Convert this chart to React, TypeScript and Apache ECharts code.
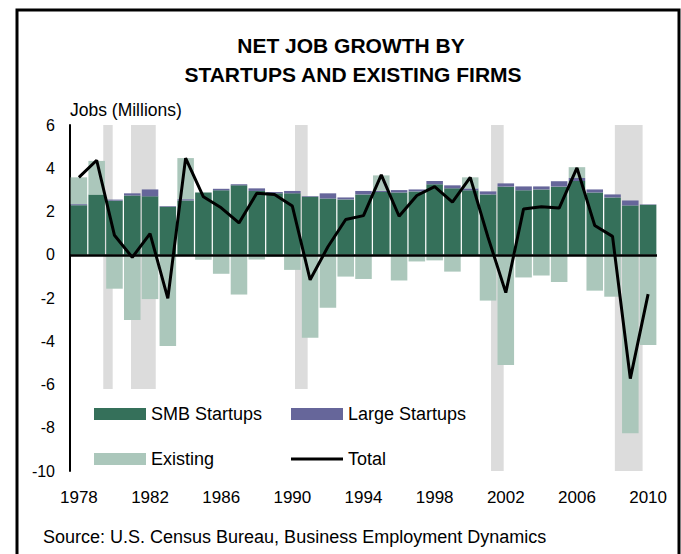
import React, { useEffect, useRef } from "react";
import * as echarts from "echarts";

const years = [
  "1978","1979","1980","1981","1982","1983","1984","1985","1986","1987",
  "1988","1989","1990","1991","1992","1993","1994","1995","1996","1997",
  "1998","1999","2000","2001","2002","2003","2004","2005","2006","2007",
  "2008","2009","2010",
];
const smbStartups = [
  2.29, 2.79, 2.5, 2.74, 2.7, 2.22, 2.51, 2.88, 2.98, 3.21,
  2.95, 2.84, 2.84, 2.68, 2.6, 2.56, 2.79, 2.9, 2.88, 2.93,
  3.26, 3.07, 2.98, 2.79, 3.15, 2.98, 3.02, 3.15, 3.41, 2.88,
  2.65, 2.28, 2.31,
];
const largeStartups = [
  0.05, 0, 0.05, 0.1, 0.32, 0.03, 0.06, 0, 0.07, 0.05,
  0.12, 0.06, 0.11, 0.03, 0.24, 0.09, 0.16, 0.06, 0.11, 0.09,
  0.15, 0.14, 0.09, 0.14, 0.15, 0.18, 0.14, 0.25, 0.14, 0.14,
  0.14, 0.23, 0.02,
];
const existing = [
  1.24, 1.55, -1.57, -3.02, -2.05, -4.22, 1.9, -0.23, -0.88, -1.84,
  -0.22, -0.1, -0.7, -3.84, -2.45, -1.01, -1.12, 0.71, -1.19, -0.31,
  -0.26, -0.78, 0.51, -2.12, -5.1, -1.05, -0.96, -1.26, 0.5, -1.66,
  -1.94, -8.26, -4.17,
];
const total = [
  3.58, 4.37, 0.9, -0.12, 0.98, -2.02, 4.47, 2.68, 2.17, 1.47,
  2.84, 2.79, 2.25, -1.16, 0.37, 1.63, 1.81, 3.69, 1.78, 2.74,
  3.15, 2.43, 3.58, 0.81, -1.75, 2.12, 2.22, 2.16, 4.02, 1.35,
  0.85, -5.73, -1.82,
];
// recession shading (fractional years on the category-aligned value scale)
const recessionStart = [1979.37, 1980.93, 1990.15, 2001.17, 2008.13];
const recessionEnd = [1979.9, 1982.32, 1990.86, 2001.88, 2009.69];

const yMin = -10;
const yMax = 6;
const yStep = 2;

const titleLines = ["NET JOB GROWTH BY", "STARTUPS AND EXISTING FIRMS"];
const yAxisTitle = "Jobs (Millions)";
const sourceText = "Source: U.S. Census Bureau, Business Employment Dynamics";

const C_SMB = "#35705a";
const C_LARGE = "#66669a";
const C_EXIST = "#abc7bb";
const C_BAND = "#dcdcdc";
const FONT = "Liberation Sans, Arial, sans-serif";

export default function App() {
  const ref = useRef<HTMLDivElement>(null);

  useEffect(() => {
    if (!ref.current) return;
    const chart = echarts.init(ref.current, undefined, { renderer: "svg" });

    const bands = recessionStart.map((s, i) => [s, recessionEnd[i]]);

    const legendText = { fontSize: 18, color: "#000", fontFamily: FONT, lineHeight: 20 };

    chart.setOption({
      animation: false,
      backgroundColor: "#fff",
      textStyle: { fontFamily: FONT },
      grid: { left: 70, right: 24, top: 125, bottom: 83, containLabel: false },
      legend: [
        {
          data: ["SMB Startups", "Existing"],
          orient: "vertical",
          left: 86,
          top: 389,
          padding: [15, 20, 5, 8],
          itemWidth: 52,
          itemHeight: 12,
          itemGap: 25,
          backgroundColor: "#fff",
          textStyle: legendText,
          icon: "rect",
        },
        {
          data: ["Large Startups", { name: "Total", icon: "path://M0,0 L52,0 L52,3 L0,3 Z" }],
          orient: "vertical",
          left: 283,
          top: 389,
          padding: [15, 20, 5, 8],
          itemWidth: 52,
          itemHeight: 12,
          itemGap: 25,
          backgroundColor: "#fff",
          textStyle: legendText,
          icon: "rect",
        },
      ],
      xAxis: [
        {
          type: "category",
          data: years,
          axisLine: { show: false },
          axisTick: { show: false },
          axisLabel: { interval: 3, fontSize: 17, color: "#000", margin: 18, fontFamily: FONT },
        },
        {
          type: "value",
          min: 1977.5,
          max: 2010.5,
          show: false,
        },
      ],
      yAxis: {
        type: "value",
        min: yMin,
        max: yMax,
        interval: yStep,
        axisLine: { show: true, lineStyle: { color: "#000", width: 2 } },
        axisTick: { show: false },
        splitLine: { show: false },
        axisLabel: { fontSize: 16, color: "#000", margin: 15, fontFamily: FONT },
      },
      series: [
        {
          type: "custom",
          name: "Recessions",
          xAxisIndex: 1,
          yAxisIndex: 0,
          z: 0,
          silent: true,
          data: bands,
          encode: { x: [0, 1] },
          renderItem: (params: any, api: any) => {
            const p0 = api.coord([api.value(0), yMax]);
            const p1 = api.coord([api.value(1), yMin]);
            return {
              type: "rect",
              shape: { x: p0[0], y: p0[1], width: p1[0] - p0[0], height: p1[1] - p0[1] },
              style: { fill: C_BAND },
            };
          },
        },
        {
          type: "bar",
          name: "SMB Startups",
          stack: "jobs",
          data: smbStartups,
          barCategoryGap: "7%",
          itemStyle: { color: C_SMB },
          z: 2,
        },
        {
          type: "bar",
          name: "Large Startups",
          stack: "jobs",
          data: largeStartups,
          barCategoryGap: "7%",
          itemStyle: { color: C_LARGE },
          z: 2,
        },
        {
          type: "bar",
          name: "Existing",
          stack: "jobs",
          data: existing,
          barCategoryGap: "7%",
          itemStyle: { color: C_EXIST },
          z: 2,
        },
        {
          type: "line",
          name: "Total",
          data: total,
          symbol: "none",
          lineStyle: { color: "#000", width: 3 },
          itemStyle: { color: "#000" },
          z: 5,
          markLine: {
            silent: true,
            symbol: "none",
            label: { show: false },
            lineStyle: { color: "#000", width: 2.5, type: "solid" },
            data: [{ yAxis: 0 }],
          },
        },
      ],
      graphic: [
        {
          type: "rect",
          shape: { x: 17, y: 10, width: 662, height: 570 },
          style: { fill: "none", stroke: "#000", lineWidth: 3 },
          z: 10,
        },
        {
          type: "text",
          x: 351,
          y: 45.5,
          style: {
            text: titleLines[0],
            font: `bold 21px ${FONT}`,
            fill: "#000",
            textAlign: "center",
            textVerticalAlign: "middle",
          },
        },
        {
          type: "text",
          x: 353,
          y: 74,
          style: {
            text: titleLines[1],
            font: `bold 21px ${FONT}`,
            fill: "#000",
            textAlign: "center",
            textVerticalAlign: "middle",
          },
        },
        {
          type: "text",
          x: 70,
          y: 110,
          style: {
            text: yAxisTitle,
            font: `17.5px ${FONT}`,
            fill: "#000",
            textAlign: "left",
            textVerticalAlign: "middle",
          },
        },
        {
          type: "text",
          x: 43,
          y: 537,
          style: {
            text: sourceText,
            font: `18px ${FONT}`,
            fill: "#000",
            textAlign: "left",
            textVerticalAlign: "middle",
          },
        },
      ],
    });

    return () => chart.dispose();
  }, []);

  return (
    <div
      ref={ref}
      style={{ position: "absolute", left: 0, top: 0, width: 681, height: 554 }}
    />
  );
}
